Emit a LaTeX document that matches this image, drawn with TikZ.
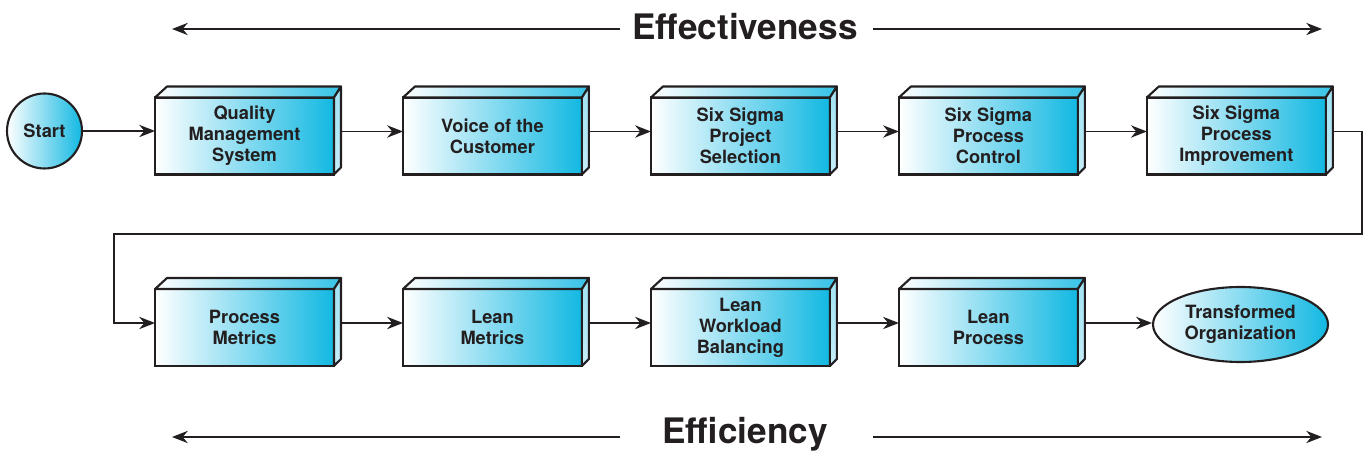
\documentclass[tikz,border=0pt]{standalone}
\usepackage{fontspec}
\setmainfont{TeX Gyre Heros}
\usetikzlibrary{positioning,arrows.meta,shapes.geometric}
\definecolor{sigmacyan}{HTML}{12B8E2}
\definecolor{inkgray}{HTML}{231F20}
\tikzset{
  stage/.style={draw=inkgray, line width=1.2pt, minimum width=3.58cm,
    minimum height=1.54cm, inner sep=0pt, outer sep=0pt, left color=white,
    right color=sigmacyan, align=center, text=inkgray,
    font=\bfseries\fontsize{10.4}{12}\selectfont},
  face/.style={draw=inkgray, line width=1.2pt, line join=round},
  link/.style={draw=inkgray, line width=1.1pt,
    -{Stealth[length=9pt,width=7pt]}},
  span/.style={draw=inkgray, line width=0.8pt,
    -{Stealth[length=9pt,width=7pt]}},
  headline/.style={text=inkgray, font=\bfseries\fontsize{20}{24}\selectfont}
}
\begin{document}
\begin{tikzpicture}[x=0.02cm, y=-0.02cm, node distance=1.38cm]
    \useasboundingbox (0,0) rectangle (1364,455);
    \pgfmathsetmacro{\lift}{0.09}  % units of cm, arrows sit above face centre

    % first row
    \node[stage] (qms) at (244.5,136) {Quality\\Management\\System};
    \node[stage, right=of qms] (voc) {Voice of the\\Customer};
    \node[stage, right=of voc] (sel) {Six Sigma\\Project\\Selection};
    \node[stage, right=of sel] (ctl) {Six Sigma\\Process\\Control};
    \node[stage, right=of ctl] (imp) {Six Sigma\\Process\\Improvement};

    % second row
    \node[stage] (pm) at (244.5,327.5) {Process\\Metrics};
    \node[stage, right=of pm] (lm) {Lean\\Metrics};
    \node[stage, right=of lm] (wb) {Lean\\Workload\\Balancing};
    \node[stage, right=of wb] (lp) {Lean\\Process};

    % end points
    \node[circle, draw=inkgray, line width=1.2pt, minimum size=1.5cm,
      inner sep=0pt, left color=white, right color=sigmacyan, text=inkgray,
      font=\bfseries\fontsize{10.4}{12}\selectfont] (start) at (44.5,131) {Start};
    \node[ellipse, draw=inkgray, line width=1.2pt, minimum width=3.5cm,
      minimum height=1.5cm, inner sep=0pt, left color=white,
      right color=sigmacyan, align=center, text=inkgray,
      font=\bfseries\fontsize{10.4}{12}\selectfont] (done) at (1240.5,324.5)
      {Transformed\\Organization};

    % connectors
    \draw[link] (start.east) -- (start.east -| qms.west);
    \foreach \a/\b in {qms/voc, voc/sel, sel/ctl, ctl/imp, pm/lm, lm/wb, wb/lp}
        \draw[link] ([yshift=\lift cm]\a.east) -- ([yshift=\lift cm]\b.west);
    \draw[link] ([yshift=\lift cm]lp.east) -- ([yshift=\lift cm]lp.east -| done.west);

    % return from first row to second row
    \coordinate (turnR) at (1362,234);
    \coordinate (turnL) at (114,234);
    \draw[link] ([yshift=\lift cm]imp.east) -| (turnR) -- (turnL)
        |- ([yshift=\lift cm]pm.west);

    % top and side faces of each box
    \foreach \n in {qms, voc, sel, ctl, imp, pm, lm, wb, lp} {
        \draw[face, left color=white, right color=sigmacyan!85]
            (\n.north west) -- ++(12,-11) -- ([shift={(7,-11)}]\n.north east)
            -- (\n.north east) -- cycle;
        \draw[face, top color=sigmacyan!40, bottom color=sigmacyan!25]
            (\n.north east) -- ++(7,-11) -- ++(0,81) -- (\n.south east) -- cycle;
    }

    % headlines
    \node[headline] (eff) at (745,27) {Effectiveness};
    \coordinate (effL) at (172,29);
    \coordinate (effR) at (1322,29);
    \coordinate (effLs) at (620,29);
    \coordinate (effRs) at (873,29);
    \draw[span] (effLs) -- (effL);
    \draw[span] (effRs) -- (effR);

    \node[headline] (effc) at (745,434) {Efficiency};
    \coordinate (effcL) at (172,437);
    \coordinate (effcR) at (1322,437);
    \coordinate (effcLs) at (620,437);
    \coordinate (effcRs) at (873,437);
    \draw[span] (effcLs) -- (effcL);
    \draw[span] (effcRs) -- (effcR);
\end{tikzpicture}
\end{document}
